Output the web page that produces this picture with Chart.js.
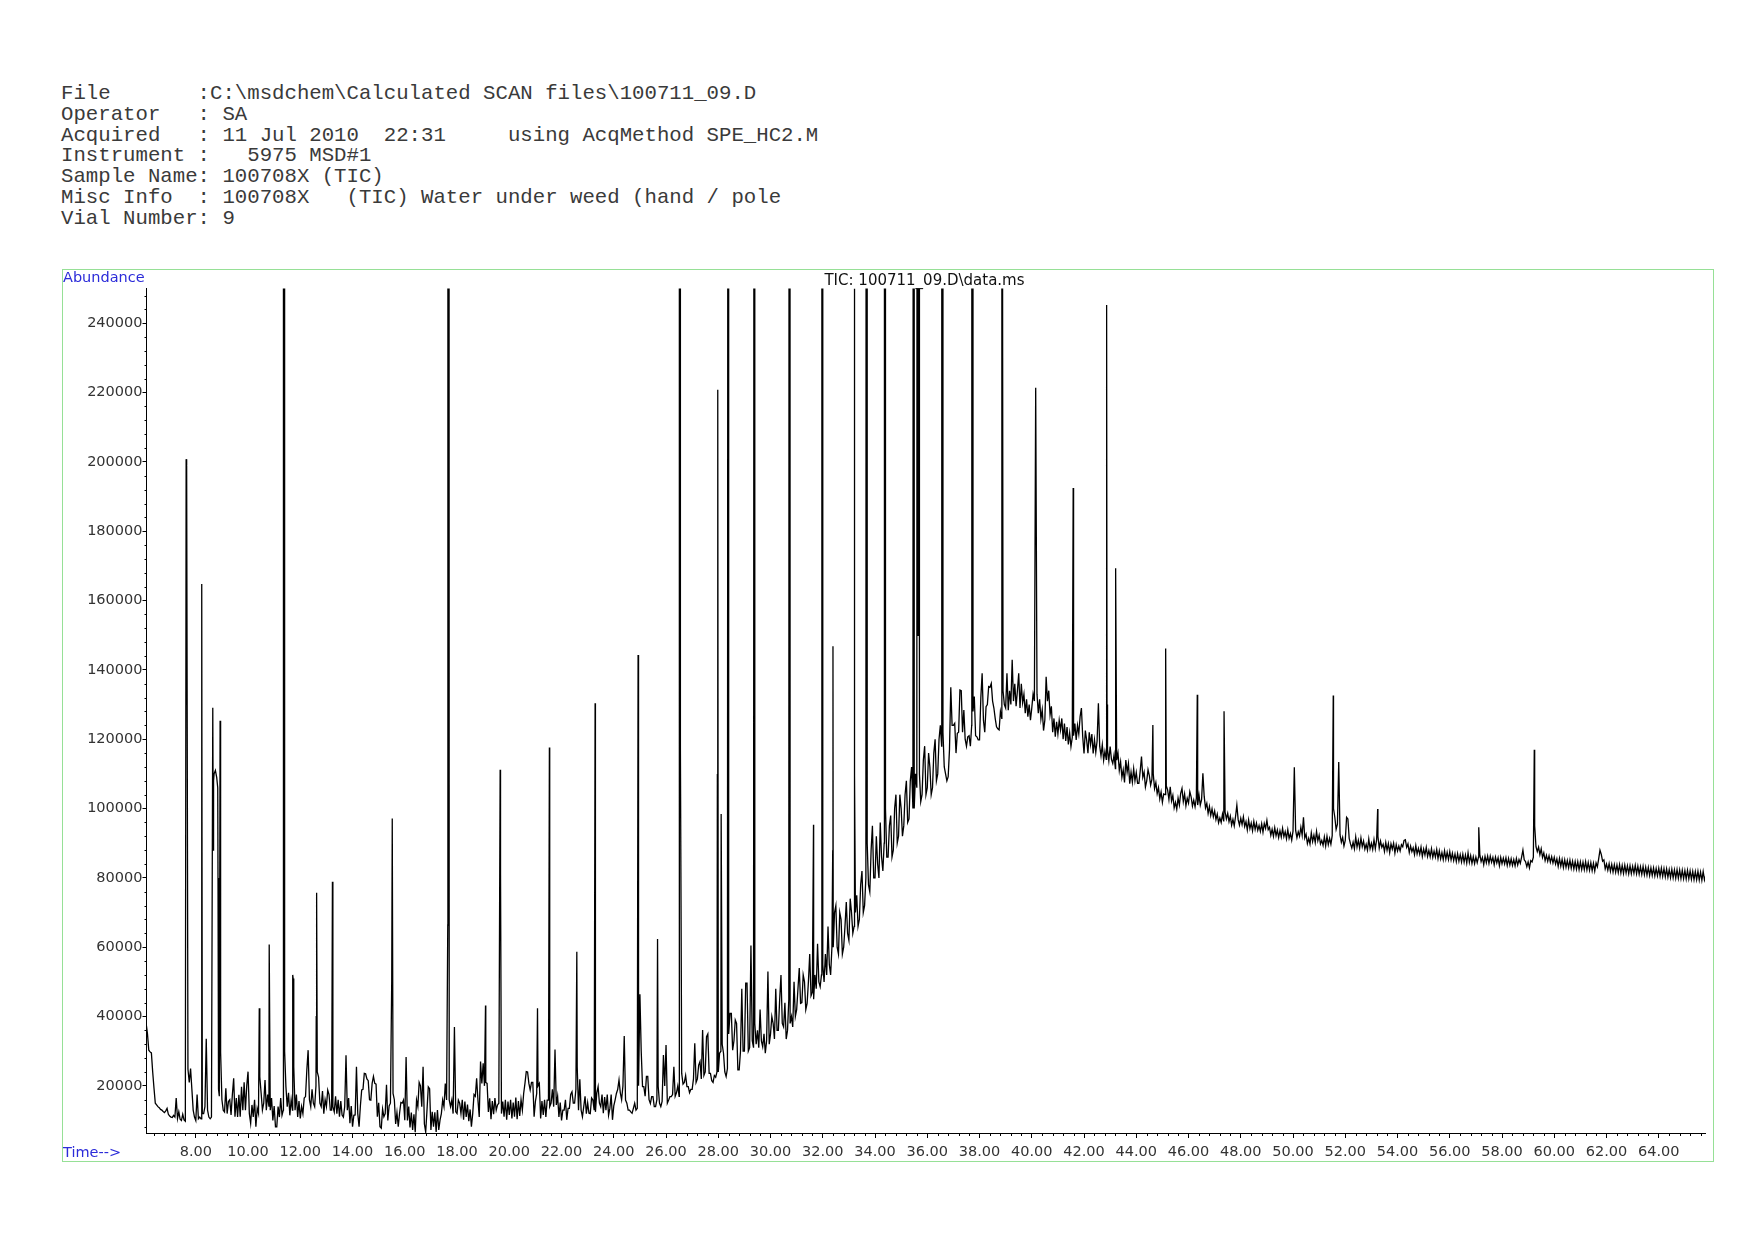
<!DOCTYPE html>
<html><head><meta charset="utf-8">
<script src="https://cdn.jsdelivr.net/npm/chart.js@4.4.1/dist/chart.umd.min.js"></script>
<style>
html,body{margin:0;padding:0;background:#fff;}
body{width:1754px;height:1240px;position:relative;overflow:hidden;}
#header{position:absolute;left:61px;top:83.7px;font-family:"Liberation Mono",monospace;font-size:20.7px;line-height:20.9px;color:#3a3a3a;white-space:pre;margin:0;}
#frame{position:absolute;left:61.5px;top:268.5px;width:1650px;height:891.5px;border:1px solid #96e096;}
canvas{position:absolute;left:0;top:0;}
.lbl{position:absolute;font-family:"DejaVu Sans",sans-serif;font-size:14.5px;line-height:14.5px;white-space:pre;}
</style></head>
<body>
<pre id="header">File       :C:\msdchem\Calculated SCAN files\100711_09.D
Operator   : SA
Acquired   : 11 Jul 2010  22:31     using AcqMethod SPE_HC2.M
Instrument :   5975 MSD#1
Sample Name: 100708X (TIC)
Misc Info  : 100708X   (TIC) Water under weed (hand / pole
Vial Number: 9</pre>
<div id="frame"></div>
<canvas id="c" width="1754" height="1240" style="width:1754px;height:1240px"></canvas>
<div class="lbl" style="left:63px;top:270.4px;color:#2b2bd9">Abundance</div>
<div class="lbl" style="left:63px;top:1145px;color:#2b2bd9">Time--&gt;</div>
<div class="lbl" style="left:924.5px;top:272.6px;font-size:15px;line-height:15px;color:#111;transform:translateX(-50%)">TIC: 100711_09.D\data.ms</div>
<script>
// ---- data ----
const gridStart = 6.1;      // min, first sample of the regular trace
const gridStep = 0.05;      // min between samples
// abundance of the trace every 0.05 min, 6.10 .. 65.80 min (one row = 1 min)
const traceAbundance = [
 38000,35000,30300,29800,29500,24000,19300,15000,14500,14000,13700,13200,13000,12600,12300,12800,13500,11800,11300,11000,
 10900,11500,11000,16500,10600,12500,10400,10000,11800,10200,9800,199000,24800,21000,25000,19000,13000,11000,10000,17500,
 10500,11000,10500,12000,12000,14000,33600,13000,11000,10500,11000,129100,110000,111000,109000,80000,17000,29600,16000,13000,
 12500,19300,12000,15500,16000,11600,17500,22200,11100,16500,11000,17400,11100,19700,13000,21000,13000,20000,24100,12000,
 9200,14500,11000,16000,8200,13500,12000,22600,18000,13000,15000,21700,13000,17500,14000,13000,16500,10000,14200,8200,
 8200,14000,11000,16500,11500,13000,30000,19700,14000,18000,11500,16000,13000,25500,13000,17500,11000,15600,10600,14000,
 12000,16500,16900,24600,30300,16000,14000,19000,15000,14000,20000,24000,22500,15000,14000,18500,12000,16000,14000,18800,
 17500,13000,13000,14000,12500,17000,12000,16000,11100,15600,11600,11000,14000,28800,13000,16500,9200,14200,8200,11500,
 11600,25500,12000,8200,14200,18800,19000,23600,23500,22000,21500,16000,15900,20700,22700,20700,20500,11100,15100,8200,
 7800,13300,11100,12000,20300,10000,14200,15000,50400,17800,16000,9000,12300,8200,12100,15200,15000,15900,10100,28300,
 10000,14000,8000,12300,7300,11800,6600,15900,14000,21000,20000,14000,25500,9000,6700,13000,19700,19200,7300,12500,
 8200,12400,6700,13000,7300,10200,12000,15900,14000,20700,15900,520000,16000,14000,15900,12000,37000,12500,12000,15900,
 15000,12000,16000,10200,15500,11000,14600,9800,13200,8200,12000,17500,17000,22200,15900,11000,27000,20700,26500,20000,
 21000,20700,12500,16400,10400,15600,11800,16500,13000,14500,15000,111200,12000,15500,11100,16000,10200,15500,11600,16000,
 10600,15200,11100,16600,10400,15600,11300,16000,13000,17800,20700,24100,24000,20700,18800,21000,21000,11100,15500,17800,
 20000,20700,10600,15600,11600,16000,11000,15900,15900,14000,15000,19000,14000,30500,14500,17000,11000,15200,10000,13000,
 13000,16000,10200,13500,13500,17500,18300,15000,15000,19000,25500,13000,21900,13000,11100,14000,17000,12000,15100,12100,
 12000,16500,15900,13000,12500,18000,19800,15000,14000,17500,12100,16800,13000,17500,11500,13500,17500,10200,14200,15900,
 17800,19000,21700,18000,16000,20000,34400,15900,15000,13000,13000,12500,12100,13500,15000,13000,13500,20000,46400,30000,
 19800,19800,17000,22700,22700,16000,14900,16900,16900,14000,14000,16000,19800,15000,14000,15500,28900,20000,31800,15000,
 15900,16900,16900,17500,25500,17000,18000,20000,17000,117600,23600,20500,21000,23000,19800,19800,18000,19000,19000,22000,
 32300,21000,22000,26000,27000,22000,36100,23000,24000,34200,35000,23600,23600,21500,21000,23000,22500,24000,24000,29400,
 30000,32000,29400,24000,22700,25000,35000,40900,40900,30300,33000,39000,38000,24600,24600,30000,48000,30000,30000,49600,
 49600,30000,31000,60500,33000,31000,38000,32000,36000,31000,42000,33000,31300,35000,29400,33000,53000,32000,35000,40000,
 38000,33500,48000,36000,36000,45000,52000,38000,37000,44000,33500,36000,45000,38000,40000,37000,50000,40000,42000,48000,
 54000,43800,44000,52000,50000,42000,43800,50000,58000,46000,47000,45000,52000,48000,61000,50000,48600,52000,55000,50000,
 58000,52000,66000,55000,52000,60000,60000,70000,72000,60000,58000,70000,68000,58000,60000,66000,73000,64000,62000,74000,
 70000,64000,66000,70000,75000,66000,68000,78000,82000,70000,72000,80000,90000,78000,76000,88000,95000,80000,80000,92000,
 84000,80000,96000,86000,82000,90000,100000,86000,86000,95000,98000,86000,88000,100000,104000,90000,92000,104000,100000,92000,
 95000,104000,108000,96000,97000,108000,112000,100000,100000,110000,106000,150000,110000,102000,104000,114000,118000,104000,106000,116000,
 112000,104000,106000,116000,120000,108000,110000,120000,124000,118000,122000,112000,110000,108000,109200,117000,135000,124000,124000,124600,
 116000,121700,122000,134200,134000,122000,128400,120000,118000,120700,121000,118000,124000,128000,132300,121000,120700,119800,119800,132000,
 139000,125500,122000,129400,130000,135200,135000,136100,131000,129000,126000,123600,123000,122700,128000,126000,134000,130000,129000,139000,
 128400,134000,130000,142900,131000,136000,129500,134000,139000,129000,136000,130500,133000,127500,131500,126500,130000,125500,129000,133000,
 131000,221400,133000,127500,131500,125800,128500,122500,125500,138000,131000,134000,127000,129500,122000,126000,120700,125000,121500,125500,
 122700,126000,120000,124500,119500,123500,118500,121800,117900,120500,121000,124500,119800,124000,121500,126500,129000,120700,115900,122500,
 119800,116000,122000,118500,121500,115900,119800,116200,119500,130400,118000,115200,118400,113900,116500,114200,117000,113800,117900,114200,
 113000,115500,111500,114000,116000,111000,113500,109000,111200,107500,114000,110500,113000,107200,110500,107600,111500,108000,110400,107300,
 107300,110800,115000,109000,110500,106200,108000,111200,109500,106800,108500,110000,105800,107500,104300,106000,102800,104800,101800,104200,
 104000,106500,105400,102600,106300,102200,103800,100200,101800,99800,103000,101000,104400,105800,102000,104200,100800,103000,101600,104900,
 103400,100700,102400,100500,103000,101000,104000,101000,102600,110200,103500,100200,101500,98600,100600,98000,99900,97600,99300,96800,
 98400,95900,97300,96000,98400,96300,99000,97000,98600,96200,97800,95200,96900,95000,97700,101000,96800,95200,97200,95400,
 97600,94800,96200,93800,96700,94200,95800,93600,96300,94000,95800,93700,95100,93400,95600,93200,95700,94300,96600,93900,
 94600,92300,94000,92000,94500,92200,93800,91600,93600,91800,94300,91900,93300,91300,93900,91400,92800,90900,93500,111900,
 93700,91600,93300,92000,94600,92300,97500,91500,92600,89900,91400,89800,93000,90500,92300,90200,93400,90700,92300,89800,
 90800,89400,91800,89200,92000,89600,91400,89700,92200,100000,97500,94000,95500,113400,92400,90300,91700,89200,90800,97500,
 97000,91400,89800,88600,90300,88400,91800,88900,90800,88600,91500,89000,90600,88300,89700,88000,91200,88400,90000,88200,
 91000,88400,91000,92000,88600,90600,88800,89700,87600,90200,88000,89900,87300,89800,88300,90000,87200,89600,87800,89200,
 87800,89600,89000,90800,91000,88800,89800,87300,89200,87600,88700,86700,89300,86900,88500,86800,88900,86200,88300,86600,
 88800,86200,87900,86100,88400,85900,87700,86000,88200,85600,87800,85500,87300,85300,87800,85400,87400,85300,87600,85200,
 87100,85000,86900,84700,87000,84800,86700,84600,86800,84500,86600,84300,87200,84500,86400,84200,86100,84100,86000,84400,
 86000,86800,84700,85900,83800,86200,84400,86300,84200,86300,84500,85900,83800,86000,84300,85800,83500,85900,84100,85700,
 84000,85800,83600,85600,83700,85500,83600,85300,83500,85600,83700,85300,84200,86000,88000,85200,84700,83200,84600,82900,
 85000,84600,86000,95000,89000,87600,88900,86700,88400,85900,87200,85000,86500,84800,86400,84500,86100,84300,85900,84000,
 85500,83300,85600,83400,85300,83000,85200,83100,85000,82900,85100,82800,84800,82600,84700,82500,84700,82400,84600,82400,
 84500,82400,84700,82300,84400,82200,84400,82100,84200,82000,84300,83200,85500,88000,86800,84800,85200,82600,84000,82200,
 84100,81900,83900,81700,83800,81600,83700,81500,83800,81400,83600,81300,83700,81400,83500,81200,83500,81200,83300,81300,
 83600,81200,83400,81100,83200,81000,83300,80900,83100,80800,83000,80700,82900,80700,82900,80600,82700,80600,82800,80500,
 82800,80400,82700,80300,82600,80200,82400,80100,82500,80000,82300,79900,82400,79900,82300,79800,82200,79800,82100,79700,
 82200,79700,82000,79600,81900,79500,81800,79500,81900,79400,81700,79300,81800,79400,80700
];
// narrow chromatographic peaks: apex samples lying between the regular samples
const peakTimes = [
 7.63, 8.22, 8.235, 8.67, 8.68, 8.84, 8.86, 8.88, 8.93, 10.43,
 10.81, 11.355, 11.39, 11.71, 11.725, 12.61, 12.625, 13.23, 13.245, 15.52,
 17.645, 17.69, 19.09, 19.665, 21.08, 21.535, 21.545, 22.585, 23.285, 23.295,
 24.93, 24.945, 25.675, 26.51, 26.545, 27.965, 27.98, 28.11, 28.375, 28.395,
 29.37, 29.395, 30.715, 30.745, 31.645, 31.965, 31.995, 32.38, 32.39, 33.205,
 33.215, 33.225, 33.665, 33.695, 34.36, 34.395, 35.47, 35.495, 35.615, 35.64,
 35.66, 35.675, 35.695, 36.555, 36.585, 37.705, 37.735, 38.855, 38.885, 41.585,
 42.865, 42.88, 43.21, 44.635, 45.125, 46.335, 47.36, 51.54, 53.24, 57.11,
 59.235
];
const peakAbundance = [
 200800, 70000, 164800, 88000, 108000, 106000, 50000, 19000, 125300, 42400,
 60800, 520000, 480000, 52000, 51000, 40000, 75700, 78900, 55000, 97100,
 66400, 500000, 43200, 81000, 42400, 117600, 80000, 58700, 130400, 88000,
 144300, 60000, 62400, 450000, 420000, 109800, 220800, 98400, 480000, 300000,
 420000, 250000, 500000, 350000, 95300, 520000, 300000, 87800, 146800, 250000,
 240000, 110000, 500000, 420000, 520000, 300000, 500000, 480000, 480000, 400000,
 200000, 470000, 300000, 520000, 300000, 520000, 300000, 520000, 230000, 192500,
 245300, 130000, 169300, 124100, 146200, 132800, 128100, 132600, 99900, 94600,
 116950
];
const timeTicks = [8,10,12,14,16,18,20,22,24,26,28,30,32,34,36,38,40,42,44,46,48,50,52,54,56,58,60,62,64];
const abundanceTicks = [20000,40000,60000,80000,100000,120000,140000,160000,180000,200000,220000,240000];
const timeMinorStep = 0.4;
const abundanceMinorStep = 4000;
const timeRange = [6.113, 65.77];
const abundanceRange = [6400, 250000];

// ---- build the point table ----
const points = traceAbundance.map((v, i) => ({x: +(gridStart + i * gridStep).toFixed(3), y: v}))
  .concat(peakTimes.map((t, i) => ({x: t, y: peakAbundance[i]})))
  .sort((a, b) => a.x - b.x);

const minorTicks = {
  id: 'minorTicks',
  afterDraw(chart) {
    const {ctx, chartArea} = chart;
    const xs = chart.scales.x, ys = chart.scales.y;
    ctx.save();
    ctx.strokeStyle = '#000';
    ctx.lineWidth = 1;
    ctx.beginPath();
    const k0 = Math.ceil(timeRange[0] / timeMinorStep), k1 = Math.floor(timeRange[1] / timeMinorStep);
    for (let k = k0; k <= k1; k++) {
      if (k % 5 === 0) continue;
      const px = Math.round(xs.getPixelForValue(k * timeMinorStep)) + 0.5;
      ctx.moveTo(px, chartArea.bottom);
      ctx.lineTo(px, chartArea.bottom + 3);
    }
    const j0 = Math.ceil(abundanceRange[0] / abundanceMinorStep), j1 = Math.floor(abundanceRange[1] / abundanceMinorStep);
    for (let j = j0; j <= j1; j++) {
      if (j % 5 === 0) continue;
      const py = Math.round(ys.getPixelForValue(j * abundanceMinorStep)) + 0.5;
      ctx.moveTo(chartArea.left - 2, py);
      ctx.lineTo(chartArea.left, py);
    }
    ctx.stroke();
    ctx.restore();
  }
};

const tickFont = {family: 'DejaVu Sans', size: 14.5};
new Chart(document.getElementById('c'), {
  type: 'line',
  data: {datasets: [{data: points, borderColor: '#000', borderWidth: 1.3, pointRadius: 0, tension: 0, fill: false}]},
  options: {
    responsive: false, animation: false, devicePixelRatio: 1,
    parsing: false, normalized: true, events: [],
    layout: {padding: {left: 0, top: 288.6, right: 49, bottom: 0}},
    plugins: {legend: {display: false}, title: {display: false}, tooltip: {enabled: false}},
    scales: {
      x: {
        type: 'linear', min: timeRange[0], max: timeRange[1],
        afterFit: s => { s.height = 107; },
        afterBuildTicks: s => { s.ticks = timeTicks.map(v => ({value: v})); },
        grid: {drawOnChartArea: false, drawTicks: true, tickLength: 5, tickColor: '#000', tickWidth: 1},
        border: {display: true, color: '#000', width: 1},
        ticks: {padding: 6, color: '#333', font: tickFont, maxRotation: 0, autoSkip: false,
                callback: v => Number(v).toFixed(2)}
      },
      y: {
        type: 'linear', min: abundanceRange[0], max: abundanceRange[1],
        afterFit: s => { s.width = 146.5; },
        afterBuildTicks: s => { s.ticks = abundanceTicks.map(v => ({value: v})); },
        grid: {drawOnChartArea: false, drawTicks: true, tickLength: 4, tickColor: '#000', tickWidth: 1},
        border: {display: true, color: '#000', width: 1},
        ticks: {padding: 0, color: '#333', font: tickFont, autoSkip: false, callback: v => String(v)}
      }
    }
  },
  plugins: [minorTicks]
});
</script>
</body></html>
